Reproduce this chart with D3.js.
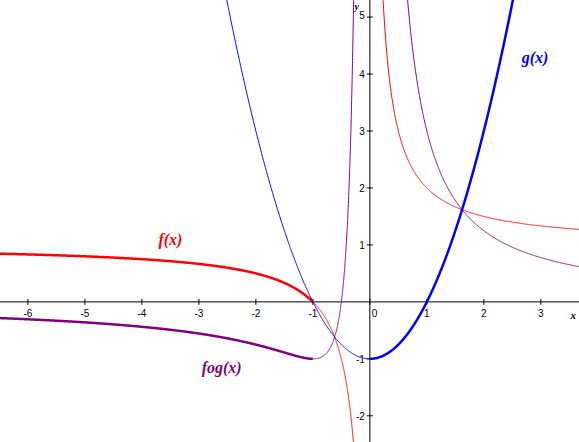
<!DOCTYPE html><html><head><script src="https://cdn.jsdelivr.net/npm/d3@7"></script>
<style>body{margin:0;background:#fff}</style></head><body><svg id="c" width="579" height="442"></svg>
<script>
const xTicks=[-6,-5,-4,-3,-2,-1,0,1,2,3];
const yTicks=[-2,-1,1,2,3,4,5];
const labels=[{t:"f(x)",x:-3.5,y:1.0,c:"#ff0000"},{t:"g(x)",x:2.9,y:4.2,c:"#0000ff"},{t:"fog(x)",x:-2.6,y:-1.25,c:"#800080"}];
const W=579,H=442;
const x=d3.scaleLinear().domain([-6.49,3.67]).range([0,W]);
const y=d3.scaleLinear().domain([5.3,-2.46]).range([0,H]);
const svg=d3.select("#c");
svg.append("defs").append("clipPath").attr("id","cl").append("rect").attr("width",W).attr("height",H);
const g=svg.append("g");
g.append("line").attr("x1",0).attr("x2",W).attr("y1",y(0)).attr("y2",y(0)).attr("stroke","#000");
g.append("line").attr("x1",x(0)).attr("x2",x(0)).attr("y1",0).attr("y2",H).attr("stroke","#000");
xTicks.forEach(t=>{g.append("line").attr("x1",x(t)).attr("x2",x(t)).attr("y1",y(0)-3).attr("y2",y(0)+3).attr("stroke","#000");
 g.append("text").attr("x",x(t)-(t===0?-2:0)).attr("y",y(0)+15).attr("text-anchor",t===0?"start":"middle").attr("font-family","Arial").attr("font-size",10).text(t);});
yTicks.forEach(t=>{g.append("line").attr("x1",x(0)-3).attr("x2",x(0)+3).attr("y1",y(t)).attr("y2",y(t)).attr("stroke","#000");
 g.append("text").attr("x",x(0)-5).attr("y",y(t)+(t===5?2:4)).attr("text-anchor","end").attr("font-family","Arial").attr("font-size",10).text(t);});
g.append("text").attr("x",W-3).attr("y",y(0)+17).attr("text-anchor","end").attr("font-family","Liberation Serif").attr("font-style","italic").attr("font-weight","bold").attr("font-size",11).text("x");
g.append("text").attr("x",x(0)-11).attr("y",10).attr("text-anchor","end").attr("font-family","Liberation Serif").attr("font-style","italic").attr("font-weight","bold").attr("font-size",10).text("y");
const f=v=>1+1/v, gg=v=>v*v-1, h=v=>2/v+1/(v*v);
const line=d3.line().x(d=>x(d[0])).y(d=>y(d[1])).defined(d=>isFinite(d[1])&&Math.abs(d[1])<50);
const P=g.append("g").attr("clip-path","url(#cl)");
function plot(fn,a,b,col,w){const pts=d3.range(0,1001).map(i=>{const v=a+(b-a)*i/1000;return[v,fn(v)]});
 P.append("path").attr("d",line(pts)).attr("fill","none").attr("stroke",col).attr("stroke-width",w);}
plot(f,-6.5,-1,"#ff0000",2.5);plot(f,-1,-0.0001,"#ff0000",1);plot(f,0.0001,3.7,"#ff0000",1);
plot(gg,-6.5,0,"#0000ff",1);plot(gg,0,3.7,"#0000ff",2.5);
plot(h,-6.5,-1,"#800080",2.5);plot(h,-1,-0.0001,"#800080",1);plot(h,0.0001,3.7,"#800080",1);
labels.forEach(l=>g.append("text").attr("x",x(l.x)).attr("y",y(l.y)).attr("fill",l.c).attr("font-family","Liberation Serif").attr("font-style","italic").attr("font-weight","bold").attr("font-size",16).attr("text-anchor","middle").text(l.t));
</script></body></html>
